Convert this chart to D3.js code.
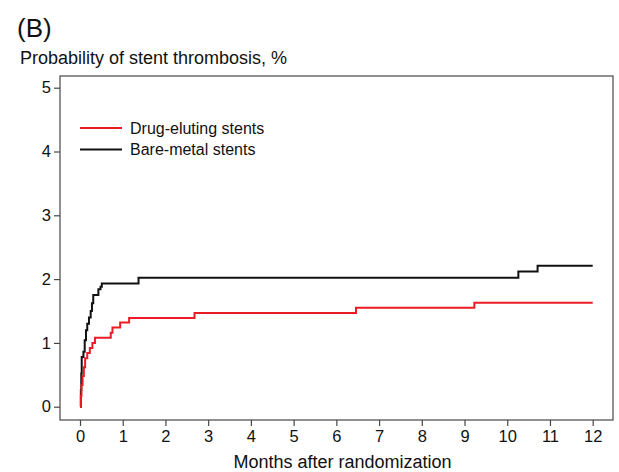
<!DOCTYPE html>
<html lang="en">
    <head>
        <meta charset="utf-8">
        <title>Stent thrombosis</title>
        <script src="https://d3js.org/d3.v7.min.js"></script>
        <style>
            body { margin: 0; background: #fff; }
            text { font-family: "Liberation Sans", Arial, sans-serif; fill: #111; }
        </style>
    </head>
    <body>
        <script type="text/javascript">
            const RED = 'rgb(237, 28, 36)';
            const BLACK = 'rgb(17, 17, 17)';
            const FRAME = 'rgb(70, 70, 70)';

            // cumulative incidence, steps as [month, %]
            var desTimes  = [0, 0.02, 0.035, 0.06, 0.09, 0.12, 0.17, 0.23, 0.29, 0.35, 0.72, 0.76, 0.94, 1.15, 2.68, 6.46, 9.23, 12];
            var desValues = [0, 0.17, 0.34, 0.48, 0.62, 0.76, 0.84, 0.92, 1.00, 1.08, 1.16, 1.24, 1.32, 1.39, 1.47, 1.55, 1.63, 1.63];

            var bmsTimes  = [0, 0.02, 0.03, 0.04, 0.08, 0.11, 0.14, 0.17, 0.21, 0.25, 0.28, 0.31, 0.43, 0.48, 0.51, 1.37, 10.26, 10.71, 12];
            var bmsValues = [0, 0.26, 0.52, 0.78, 0.86, 1.04, 1.20, 1.30, 1.40, 1.50, 1.62, 1.75, 1.84, 1.88, 1.93, 2.02, 2.12, 2.21, 2.21];

            var xTicks = d3.range(0, 13);
            var yTicks = [0, 1, 2, 3, 4, 5];
            var legendLabels = ['Drug-eluting stents', 'Bare-metal stents'];

            var width = 619,
                height = 472;

            var svg = d3.select("body").append("svg")
                .attr("width", width)
                .attr("height", height);

            var x = d3.scaleLinear().domain([0, 12]).range([80, 592.7]);
            var y = d3.scaleLinear().domain([0, 5]).range([406.7, 87.7]);

            // frame
            svg.append("rect")
                .attr("x", 60)
                .attr("y", 76)
                .attr("width", 553)
                .attr("height", 344)
                .attr("fill", "none")
                .attr("stroke", FRAME)
                .attr("stroke-width", 1.2);

            var xAxis = svg.append("g")
                .attr("transform", "translate(0,420)")
                .call(d3.axisBottom(x).tickValues(xTicks).tickFormat(d3.format("d"))
                    .tickSize(6).tickSizeOuter(0).tickPadding(4));
            xAxis.select(".domain").remove();

            var yAxis = svg.append("g")
                .attr("transform", "translate(60,0)")
                .call(d3.axisLeft(y).tickValues(yTicks).tickFormat(d3.format("d"))
                    .tickSize(6).tickSizeOuter(0).tickPadding(3));
            yAxis.select(".domain").remove();

            svg.selectAll(".tick line").attr("stroke", FRAME).attr("stroke-width", 1.2);
            svg.selectAll(".tick text")
                .style("font-family", '"Liberation Sans", Arial, sans-serif')
                .style("font-size", "16.5px")
                .attr("fill", "#111");

            function toSteps(times, values) {
                return times.map(function(t, i) { return [t, values[i]]; });
            }

            var line = d3.line()
                .x(function(d) { return x(d[0]); })
                .y(function(d) { return y(d[1]); })
                .curve(d3.curveStepAfter);

            svg.append("path")
                .datum(toSteps(bmsTimes, bmsValues))
                .attr("d", line)
                .attr("fill", "none")
                .attr("stroke", BLACK)
                .attr("stroke-width", 2);

            svg.append("path")
                .datum(toSteps(desTimes, desValues))
                .attr("d", line)
                .attr("fill", "none")
                .attr("stroke", RED)
                .attr("stroke-width", 2);

            // legend
            var legend = svg.append("g");
            [RED, BLACK].forEach(function(c, i) {
                var ly = 128 + i * 21.5;
                legend.append("line")
                    .attr("x1", 80).attr("x2", 122)
                    .attr("y1", ly).attr("y2", ly)
                    .attr("stroke", c)
                    .attr("stroke-width", 2);
                legend.append("text")
                    .attr("x", 130)
                    .attr("y", ly + 5.5)
                    .style("font-size", "16px")
                    .text(legendLabels[i]);
            });

            svg.append("text")
                .attr("x", 17)
                .attr("y", 37)
                .style("font-size", "26px")
                .text("(B)");

            svg.append("text")
                .attr("x", 20)
                .attr("y", 64)
                .style("font-size", "18px")
                .text("Probability of stent thrombosis, %");

            svg.append("text")
                .attr("x", 342.5)
                .attr("y", 468)
                .attr("text-anchor", "middle")
                .style("font-size", "18px")
                .text("Months after randomization");
        </script>
    </body>
</html>
